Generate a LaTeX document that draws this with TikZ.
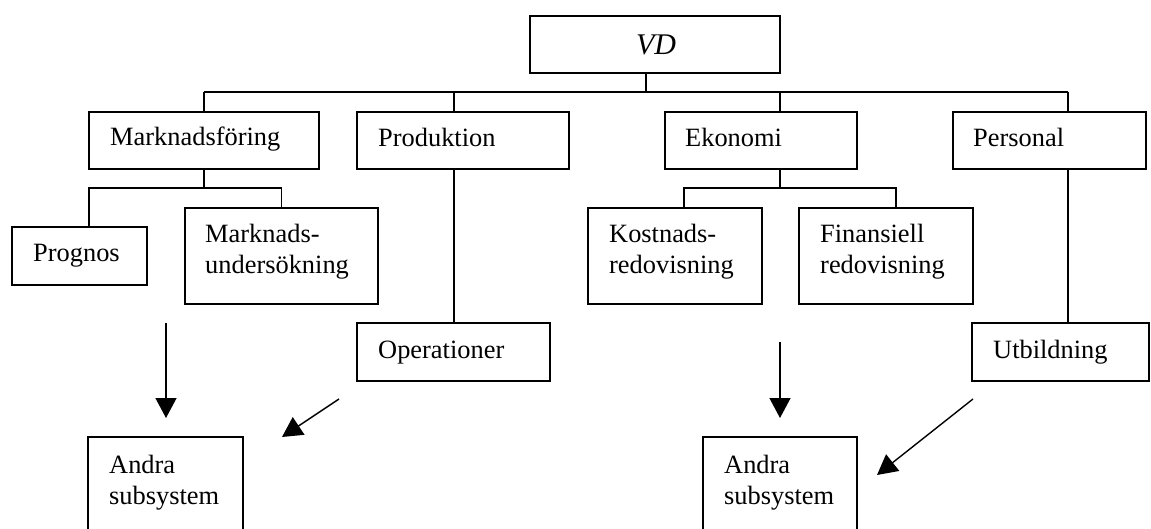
\documentclass[tikz,border=0pt]{standalone}
\usepackage{fontspec}
\setmainfont{Liberation Serif}
\usetikzlibrary{arrows.meta}
\newcommand{\twoline}[2]{\begin{tabular}[t]{@{}l@{}}#1\\#2\end{tabular}}
\begin{document}
\begin{tikzpicture}[x=1pt,y=-1pt,
  box/.style={draw,line width=1.6pt,inner sep=0pt},
  lbl/.style={anchor=base west,inner sep=0pt,font=\fontsize{26.4}{31}\selectfont},
  link/.style={line width=1.5pt},
  flow/.style={line width=1.4pt,-{Triangle[length=20pt,width=21pt]}}]
\useasboundingbox (0,0) rectangle (1151,529);

% boxes
\node[box,minimum width=250pt,minimum height=57pt] (vd) at (655,44.5) {};
\node[box,minimum width=230pt,minimum height=57pt] (mf) at (204,140.5) {};
\node[box,minimum width=212pt,minimum height=57pt] (pr) at (463,140.5) {};
\node[box,minimum width=192pt,minimum height=57pt] (ek) at (761,140.5) {};
\node[box,minimum width=193pt,minimum height=57pt] (pe) at (1049.5,140.5) {};
\node[box,minimum width=135pt,minimum height=58pt] (pg) at (79.5,256) {};
\node[box,minimum width=193pt,minimum height=96pt] (mu) at (281.5,256) {};
\node[box,minimum width=174pt,minimum height=96pt] (ko) at (675,256) {};
\node[box,minimum width=174pt,minimum height=96pt] (fi) at (886,256) {};
\node[box,minimum width=193pt,minimum height=58pt] (op) at (453.5,352) {};
\node[box,minimum width=177pt,minimum height=58pt] (ut) at (1060.5,352) {};
\node[box,minimum width=155pt,minimum height=113pt] (a1) at (165.5,493.5) {};
\node[box,minimum width=154pt,minimum height=113pt] (a2) at (780,493.5) {};

% labels
\node[anchor=base,inner sep=0pt,font=\fontsize{30}{36}\selectfont\itshape] (tvd) at (656,55) {VD};
\node[lbl] (tmf) at (110,146) {Marknadsföring};
\node[lbl] (tpr) at (378,147) {Produktion};
\node[lbl] (tek) at (685,147) {Ekonomi};
\node[lbl] (tpe) at (973,147) {Personal};
\node[lbl] (tpg) at (33,262) {Prognos};
\node[lbl] (tmu) at (205,243) {\twoline{Marknads-}{undersökning}};
\node[lbl] (tko) at (609,243) {\twoline{Kostnads-}{redovisning}};
\node[lbl] (tfi) at (820,243) {\twoline{Finansiell}{redovisning}};
\node[lbl] (top) at (378,358) {Operationer};
\node[lbl] (tut) at (993,358) {Utbildning};
\node[lbl] (ta1) at (109,473) {\twoline{Andra}{subsystem}};
\node[lbl] (ta2) at (724,473) {\twoline{Andra}{subsystem}};

% tree connectors
\coordinate (busL) at (204,92);
\coordinate (busR) at (1068,92);
\coordinate (mfbus) at (204,188);
\coordinate (ekbus) at (780,188);
\draw[link] ([xshift=-9pt]vd.south) -- ([xshift=-9pt]vd.south |- busL);
\draw[link] (busL) -- (busR);
\draw[link] (mf.north) -- (mf.north |- busL);
\draw[link] ([xshift=-9pt]pr.north) -- ([xshift=-9pt]pr.north |- busL);
\draw[link] ([xshift=19pt]ek.north) -- ([xshift=19pt]ek.north |- busL);
\draw[link] ([xshift=18.5pt]pe.north) -- ([xshift=18.5pt]pe.north |- busL);
\draw[link] (mf.south) -- (mfbus);
\draw[link] ([xshift=9.5pt]pg.north) |- (mfbus) -| (mu.north);
\draw[link] ([xshift=19pt]ek.south) -- (ekbus);
\draw[link] ([xshift=9pt]ko.north) |- (ekbus) -| ([xshift=10pt]fi.north);
\draw[link] ([xshift=-9pt]pr.south) -- ([xshift=-9pt]pr.south |- op.north);
\draw[link] ([xshift=18.5pt]pe.south) -- ([xshift=18.5pt]pe.south |- ut.north);

% flows towards the other subsystems
\coordinate (f1s) at (166,323);  \coordinate (f1e) at (166,418);
\coordinate (f2s) at (339,399);  \coordinate (f2e) at (282,437);
\coordinate (f3s) at (780,342);  \coordinate (f3e) at (780,418);
\coordinate (f4s) at (973,399);  \coordinate (f4e) at (877,475);
\draw[flow] (f1s) -- (f1e);
\draw[flow] (f2s) -- (f2e);
\draw[flow] (f3s) -- (f3e);
\draw[flow] (f4s) -- (f4e);
\end{tikzpicture}
\end{document}
